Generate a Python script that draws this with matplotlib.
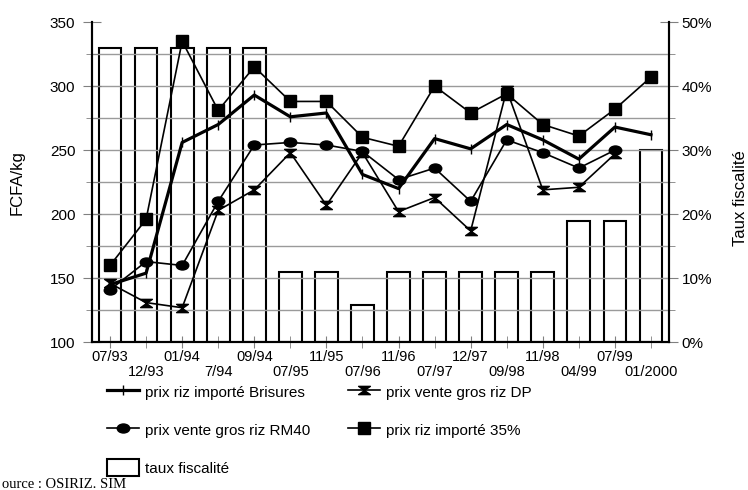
import numpy as np
import matplotlib.pyplot as plt
from matplotlib.path import Path
from matplotlib.markers import MarkerStyle
from matplotlib.transforms import Affine2D
from matplotlib.ticker import MultipleLocator, FuncFormatter

plt.rcParams['font.family'] = ['Liberation Sans', 'DejaVu Sans']

dates = ["07/93", "12/93", "01/94", "7/94", "09/94", "07/95", "11/95", "07/96",
         "11/96", "07/97", "12/97", "09/98", "11/98", "04/99", "07/99", "01/2000"]
brisures = [145, 154, 256, 270, 293, 276, 279, 231, 220, 259, 251, 270, 258, 243, 268, 262]
gros_dp = [146, 131, 127, 203, 219, 248, 207, 248, 202, 213, 187, 297, 219, 221, 247]
gros_rm40 = [141, 163, 160, 210, 254, 256, 254, 249, 227, 236, 210, 258, 248, 236, 250]
importe_35 = [160, 196, 335, 281, 315, 288, 288, 260, 253, 300, 279, 294, 270, 261, 282, 307]
taux = [46, 46, 46, 46, 46, 11, 11, 5.8, 11, 11, 11, 11, 11, 19, 19, 30]

x = np.arange(len(dates))

# markers
hourglass = Path([(-1, 0.7), (1, 0.7), (-1, -0.7), (1, -0.7), (-1, 0.7)],
                 [Path.MOVETO, Path.LINETO, Path.LINETO, Path.LINETO, Path.CLOSEPOLY])
ellipse = MarkerStyle('o', transform=Affine2D().scale(1.0, 0.72))

fig = plt.figure(figsize=(7.48, 4.9), dpi=100)
ax = fig.add_axes([0.123, 0.3014, 0.7714, 0.6537])
ax2 = ax.twinx()
ax.set_zorder(ax2.get_zorder() + 1)
ax.patch.set_visible(False)

grey = '#808080'

# bars (taux fiscalite) on right axis
bars = ax2.bar(x, taux, width=0.63, facecolor='none', edgecolor='black',
               linewidth=1.5, label='taux fiscalité')

# grid
ax.hlines(np.arange(125, 350, 25), -0.5, 15.5, color='#9a9a9a', linewidth=1, zorder=0)

l1, = ax.plot(x, brisures, color='black', linewidth=2.3, marker='|', ms=7, mew=1,
              label='prix riz importé Brisures')
l2, = ax.plot(x[:len(gros_dp)], gros_dp, color='black', linewidth=1.2, marker=hourglass,
              ms=8.5, label='prix vente gros riz DP')
l3, = ax.plot(x[:len(gros_rm40)], gros_rm40, color='black', linewidth=1.2, marker=ellipse,
              ms=9, label='prix vente gros riz RM40')
l4, = ax.plot(x, importe_35, color='black', linewidth=1.2, marker='s', ms=8,
              label='prix riz importé 35%')

ax.set_xlim(-0.5, 15.5)
ax.set_ylim(100, 350)
ax2.set_ylim(0, 50)

ax.yaxis.set_major_locator(MultipleLocator(50))
ax.yaxis.set_minor_locator(MultipleLocator(25))
ax2.yaxis.set_major_locator(MultipleLocator(10))
ax2.yaxis.set_minor_locator(MultipleLocator(5))
ax2.yaxis.set_major_formatter(FuncFormatter(lambda v, p: f"{v:.0f}%"))

ax.tick_params(axis='y', which='major', direction='inout', length=13, color=grey,
               labelsize=11, pad=5.5)
ax.tick_params(axis='y', which='minor', direction='inout', length=9, color=grey)
ax2.tick_params(axis='y', which='major', direction='inout', length=13, color=grey,
                labelsize=11, pad=2.6)
ax2.tick_params(axis='y', which='minor', direction='inout', length=9, color=grey)

# staggered date labels: even positions on major ticks, odd ones on minor ticks
ax.set_xticks(x[::2])
ax.set_xticklabels(dates[::2])
ax.set_xticks(x[1::2], minor=True)
ax.set_xticklabels(dates[1::2], minor=True)
ax.tick_params(axis='x', which='major', direction='inout', length=8, color=grey,
               pad=1.5, labelsize=10.5)
ax.tick_params(axis='x', which='minor', direction='inout', length=8, color=grey,
               pad=12.5, labelsize=10.5)
ax2.tick_params(axis='x', bottom=False)

for a in (ax, ax2):
    a.spines['top'].set_visible(False)
    for s in ('left', 'right', 'bottom'):
        a.spines[s].set_linewidth(1.5)
        a.spines[s].set_color('black')

ax.set_ylabel('FCFA/kg', fontsize=12)
ax.yaxis.set_label_coords(-0.116, 0.5)
ax2.set_ylabel('Taux fiscalité', fontsize=12)
ax2.yaxis.set_label_coords(1.111, 0.45)

fig.legend(handles=[l1, l3, bars, l2, l4], ncol=2, loc='upper left',
           bbox_to_anchor=(0.143, 0.218), frameon=False, fontsize=11,
           borderpad=0, borderaxespad=0, handlelength=2.1, handleheight=1.37,
           handletextpad=0.4, labelspacing=1.35, columnspacing=2.45)

fig.text(0.003, 1 - 484 / 490, "ource : OSIRIZ. SIM", family='Liberation Serif',
         fontsize=10.5, va='center')

fig.savefig('out.png', dpi=100)
